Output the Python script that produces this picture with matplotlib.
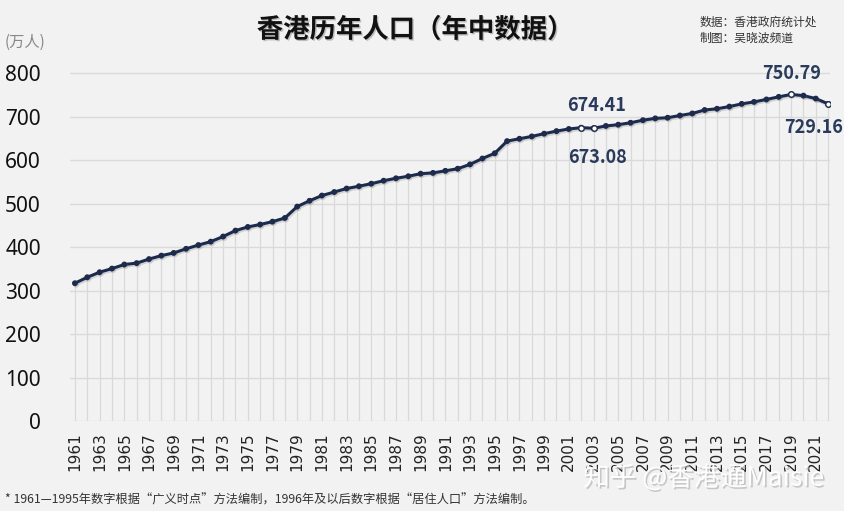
import numpy as np
import matplotlib.pyplot as plt
import matplotlib.patheffects as pe

plt.rcParams['font.family'] = ['Noto Sans CJK SC', 'DejaVu Sans']

## Mid-year population of Hong Kong, 10k persons
years = np.arange(1961, 2023)
population = [316.81, 330.52, 342.09, 350.46, 359.79, 362.99, 372.28, 380.27, 386.39, 395.90,
              404.53, 412.36, 424.16, 437.78, 446.16, 451.80, 458.37, 466.75, 492.97, 506.31,
              518.34, 526.45, 534.51, 539.79, 545.62, 552.46, 558.05, 562.76, 568.62, 570.45,
              575.20, 580.05, 590.10, 603.54, 615.61, 643.55, 648.93, 654.37, 660.65, 666.50,
              671.43, 674.41, 673.08, 678.35, 681.32, 685.71, 691.63, 695.78, 697.28, 702.42,
              707.16, 715.01, 717.89, 722.95, 729.13, 733.66, 739.32, 745.26, 750.79, 748.10,
              741.31, 729.16]
tick_years = list(range(1961, 2022, 2))
y_ticks = [0, 100, 200, 300, 400, 500, 600, 700, 800]

# label year -> (dx pt, dy pt, ha)
labels = {2002: (11, 16, 'center'), 2003: (3, -21, 'center'),
          2019: (0, 15, 'center'), 2022: (11, -17, 'right')}

navy = '#1c2b4b'
bg = '#f2f2f2'

fig = plt.figure(figsize=(8.45, 5.11), dpi=100, facecolor=bg)
ax = fig.add_axes([70 / 845, 1 - 421 / 511, 760 / 845, 361 / 511])
ax.set_facecolor(bg)

ax.set_xlim(1960.6, 2022.15)
ax.set_ylim(0, 830)

for y in y_ticks:
    ax.axhline(y, color='#dadada', lw=1.0, zorder=1)
ax.vlines(years, 0, population, color='#d9d9d9', lw=0.9, zorder=1)

ax.plot(years, population, color=navy, lw=2.2, marker='o', ms=3.2,
        mfc=navy, mec=navy, zorder=3,
        path_effects=[pe.SimpleLineShadow(offset=(0.8, -1.2), shadow_color='#777', alpha=0.25),
                      pe.Normal()])

pop = dict(zip(years, population))
for yr, (dx, dy, ha) in labels.items():
    ax.plot(yr, pop[yr], 'o', ms=4, mfc='white', mec=navy, mew=1.0, zorder=4)
    ax.annotate(f'{pop[yr]:.2f}', (yr, pop[yr]), xytext=(dx, dy), textcoords='offset points',
                ha=ha, va='center', fontsize=13, fontweight='bold', color='#2a3a5c',
                annotation_clip=False)

ax.set_xticks(tick_years)
ax.set_xticklabels([str(t) for t in tick_years], rotation=90, fontsize=11,
                   family='DejaVu Sans', color='#222')
ax.set_yticks(y_ticks)
ax.set_yticklabels([str(t) for t in y_ticks], fontsize=15, family='Noto Sans', color='#111')
ax.tick_params(axis='both', length=0)
ax.tick_params(axis='y', pad=21)
ax.tick_params(axis='x', pad=8)
for s in ax.spines.values():
    s.set_visible(False)

fig.text(5 / 845, 1 - 42 / 511, '(万人)', fontsize=11, color='#888', va='center')
fig.text(415 / 845, 1 - 30 / 511, '香港历年人口（年中数据）', fontsize=19, fontweight='bold',
         ha='center', va='center', color='#111',
         path_effects=[pe.withSimplePatchShadow(offset=(1, -1), shadow_rgbFace='#888', alpha=0.5)])
fig.text(700 / 845, 1 - 22 / 511, '数据：香港政府统计处', fontsize=8.5, color='#333', va='center')
fig.text(700 / 845, 1 - 38 / 511, '制图：吴晓波频道', fontsize=8.5, color='#333', va='center')
fig.text(5 / 845, 1 - 500 / 511,
         '* 1961—1995年数字根据“广义时点”方法编制，1996年及以后数字根据“居住人口”方法编制。',
         fontsize=8.8, color='#333', va='center')
fig.text(824 / 845, 1 - 478 / 511, '知乎 @香港通Maisie', fontsize=19, color='white',
         ha='right', va='center', alpha=0.95,
         path_effects=[pe.withSimplePatchShadow(offset=(1.2, -1.2), shadow_rgbFace='#aaa', alpha=0.6)])

fig.savefig('out.png', dpi=100, facecolor=bg)
